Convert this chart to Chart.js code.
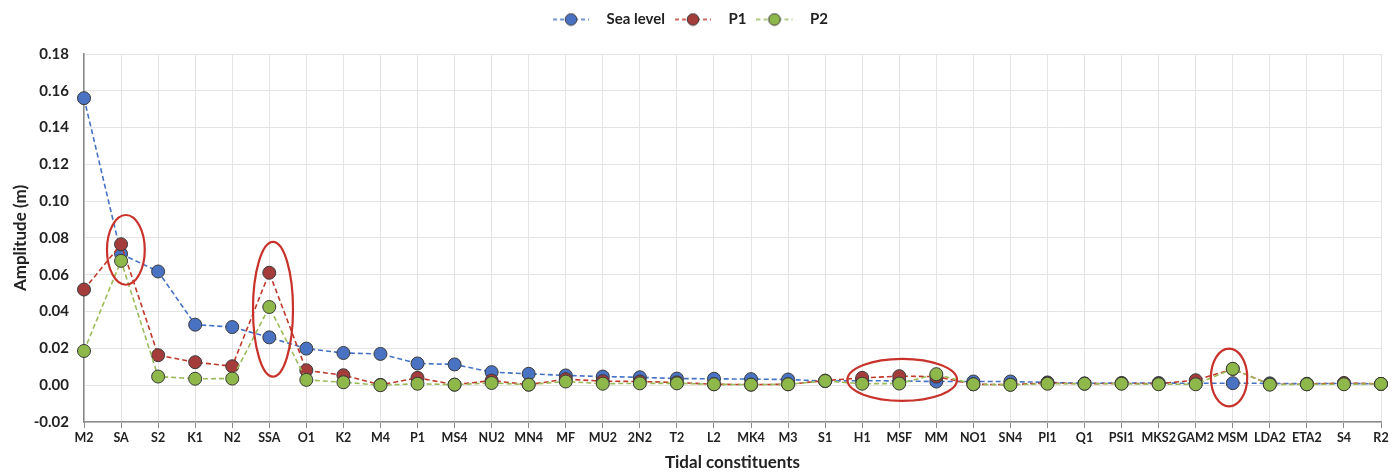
<!DOCTYPE html>
<html>
<head>
<meta charset="utf-8">
<script src="https://cdn.jsdelivr.net/npm/chart.js@4.4.1/dist/chart.umd.min.js"></script>
<style>
  html, body { margin: 0; padding: 0; background: #fff; overflow: hidden; }
  #wrap { width: 1399px; height: 473px; }
</style>
</head>
<body>
<div id="wrap"><canvas id="tideChart"></canvas></div>
<script>
const constituents = ['M2', 'SA', 'S2', 'K1', 'N2', 'SSA', 'O1', 'K2', 'M4', 'P1', 'MS4', 'NU2', 'MN4', 'MF', 'MU2', '2N2', 'T2', 'L2', 'MK4', 'M3', 'S1', 'H1', 'MSF', 'MM', 'NO1', 'SN4', 'PI1', 'Q1', 'PSI1', 'MKS2', 'GAM2', 'MSM', 'LDA2', 'ETA2', 'S4', 'R2'];

const seaLevel = [0.156, 0.0714, 0.0618, 0.0329, 0.0316, 0.026, 0.0199, 0.0175, 0.017, 0.0118, 0.0113, 0.0071, 0.0062, 0.0053, 0.0047, 0.0043, 0.0036, 0.0035, 0.0033, 0.0031, 0.0022, 0.0025, 0.0023, 0.002, 0.002, 0.002, 0.0015, 0.001, 0.0012, 0.0012, 0.001, 0.0011, 0.001, 0.0008, 0.001, 0.0007];
const p1 = [0.052, 0.0766, 0.0163, 0.0125, 0.0103, 0.0611, 0.0081, 0.0054, 0.0002, 0.004, 0.0003, 0.0025, 0.0003, 0.0033, 0.0022, 0.002, 0.0015, 0.0005, 0.0003, 0.0005, 0.0025, 0.004, 0.0049, 0.0047, 0.0005, 0.0003, 0.0012, 0.0008, 0.001, 0.0008, 0.0027, 0.0088, 0.0005, 0.0005, 0.0012, 0.0007];
const p2 = [0.0186, 0.0676, 0.0047, 0.0035, 0.0036, 0.0425, 0.0029, 0.0016, 0.0, 0.0008, 0.0003, 0.0012, 0.0003, 0.002, 0.0008, 0.001, 0.001, 0.0005, 0.0003, 0.0005, 0.0023, 0.0008, 0.0009, 0.006, 0.0005, 0.0002, 0.0008, 0.0008, 0.0008, 0.0005, 0.0005, 0.0089, 0.0003, 0.0005, 0.0005, 0.0007];

const yTicks = [-0.02, 0, 0.02, 0.04, 0.06, 0.08, 0.10, 0.12, 0.14, 0.16, 0.18];

// highlighted groups: centre as category index, half width in categories, value range
const highlights = [
    { x: 1.13, halfWidth: 0.51, top: 0.0925, bottom: 0.0546 },
    { x: 5.1, halfWidth: 0.54, top: 0.0779, bottom: 0.0047 },
    { x: 22.08, halfWidth: 1.48, top: 0.0143, bottom: -0.0085 },
    { x: 30.9, halfWidth: 0.49, top: 0.0199, bottom: -0.0115 }
];

const font = 'Lato, "Open Sans", sans-serif';

// legend symbol: dashed line with a marker in the middle (right part left blank as a gap)
const legendIcon = (lineColor, fillColor) => {
    const c = document.createElement('canvas');
    c.width = 46;
    c.height = 14;
    const g = c.getContext('2d');
    g.strokeStyle = lineColor;
    g.lineWidth = 1.6;
    g.setLineDash([4, 3]);
    g.beginPath();
    g.moveTo(0, 7);
    g.lineTo(36, 7);
    g.stroke();
    g.setLineDash([]);
    g.beginPath();
    g.arc(18, 7, 5.8, 0, Math.PI * 2);
    g.fillStyle = fillColor;
    g.fill();
    g.strokeStyle = '#3a3a3a';
    g.lineWidth = 1;
    g.stroke();
    return c;
};

const ellipsePlugin = {
    id: 'ellipses',
    afterDatasetsDraw(chart) {
        const { ctx, scales: { x, y } } = chart;
        ctx.save();
        ctx.strokeStyle = '#c8322a';
        ctx.lineWidth = 2.2;
        highlights.forEach(h => {
            const cx = x.getPixelForValue(h.x);
            const step = x.getPixelForValue(1) - x.getPixelForValue(0);
            const yTop = y.getPixelForValue(h.top);
            const yBot = y.getPixelForValue(h.bottom);
            ctx.beginPath();
            ctx.ellipse(cx, (yTop + yBot) / 2, h.halfWidth * step, (yBot - yTop) / 2, 0, 0, Math.PI * 2);
            ctx.stroke();
        });
        ctx.restore();
    }
};

// extra room below the legend
const legendSpace = {
    id: 'legendSpace',
    beforeInit(chart) {
        const fit = chart.legend.fit;
        chart.legend.fit = function () {
            fit.call(this);
            this.height = 52;
        };
    }
};

const makeSeries = (label, data, lineColor, fillColor, order) => ({
    label: label,
    data: data,
    order: order,
    borderColor: lineColor,
    backgroundColor: fillColor,
    borderWidth: 1.6,
    borderDash: [5, 3],
    pointRadius: 6.5,
    pointHoverRadius: 6.5,
    pointBackgroundColor: fillColor,
    pointBorderColor: '#3a3a3a',
    pointBorderWidth: 1,
    pointStyle: 'circle',
    legendIcon: legendIcon(lineColor, fillColor),
    tension: 0
});

const datasets = [
    makeSeries('Sea level', seaLevel, '#4472c4', '#4a72c2', 3),
    makeSeries('P1', p1, '#c0392b', '#a33c3a', 2),
    makeSeries('P2', p2, '#9bbb59', '#8fb84a', 1)
];

new Chart(document.getElementById('tideChart'), {
    type: 'line',
    data: { labels: constituents, datasets: datasets },
    options: {
        responsive: true,
        maintainAspectRatio: false,
        animation: false,
        layout: { padding: { left: 0, right: 18, top: 2, bottom: 0 } },
        plugins: {
            legend: {
                position: 'top',
                labels: {
                    usePointStyle: true,
                    pointStyleWidth: 46,
                    boxHeight: 14,
                    padding: 10,
                    color: '#222',
                    font: { family: font, size: 15, weight: 'bold' },
                    generateLabels(chart) {
                        return chart.data.datasets.map((ds, i) => ({
                            text: ds.label,
                            pointStyle: ds.legendIcon,
                            fillStyle: ds.backgroundColor,
                            strokeStyle: ds.borderColor,
                            lineWidth: 0,
                            fontColor: '#222',
                            hidden: false,
                            datasetIndex: i
                        }));
                    }
                }
            },
            tooltip: { enabled: false }
        },
        scales: {
            x: {
                offset: false,
                afterFit(axis) { axis.height = 51; },
                grid: {
                    color: '#e4e4e4',
                    drawTicks: true,
                    tickLength: 6,
                    tickColor: '#8a8a8a'
                },
                border: { color: '#8a8a8a', width: 1.5 },
                ticks: {
                    autoSkip: false,
                    maxRotation: 0,
                    color: '#222',
                    padding: 2,
                    font: { family: font, size: 12.5, weight: 'bold' }
                },
                title: {
                    display: true,
                    text: 'Tidal constituents',
                    color: '#222',
                    padding: { top: 0, bottom: 0 },
                    font: { family: font, size: 17, weight: 'bold' }
                }
            },
            y: {
                min: -0.02,
                max: 0.18,
                afterFit(axis) { axis.width = 84; },
                afterBuildTicks(axis) {
                    axis.ticks = yTicks.map(v => ({ value: v }));
                },
                grid: { color: '#e4e4e4', drawTicks: false },
                border: { color: '#8a8a8a', width: 1.5 },
                ticks: {
                    color: '#222',
                    padding: 15,
                    font: { family: font, size: 15, weight: 'bold' },
                    callback: v => Number(v).toFixed(2)
                },
                title: {
                    display: true,
                    text: 'Amplitude (m)',
                    color: '#222',
                    padding: { top: 10, bottom: 0 },
                    font: { family: font, size: 17, weight: 'bold' }
                }
            }
        }
    },
    plugins: [ellipsePlugin, legendSpace]
});
</script>
</body>
</html>
